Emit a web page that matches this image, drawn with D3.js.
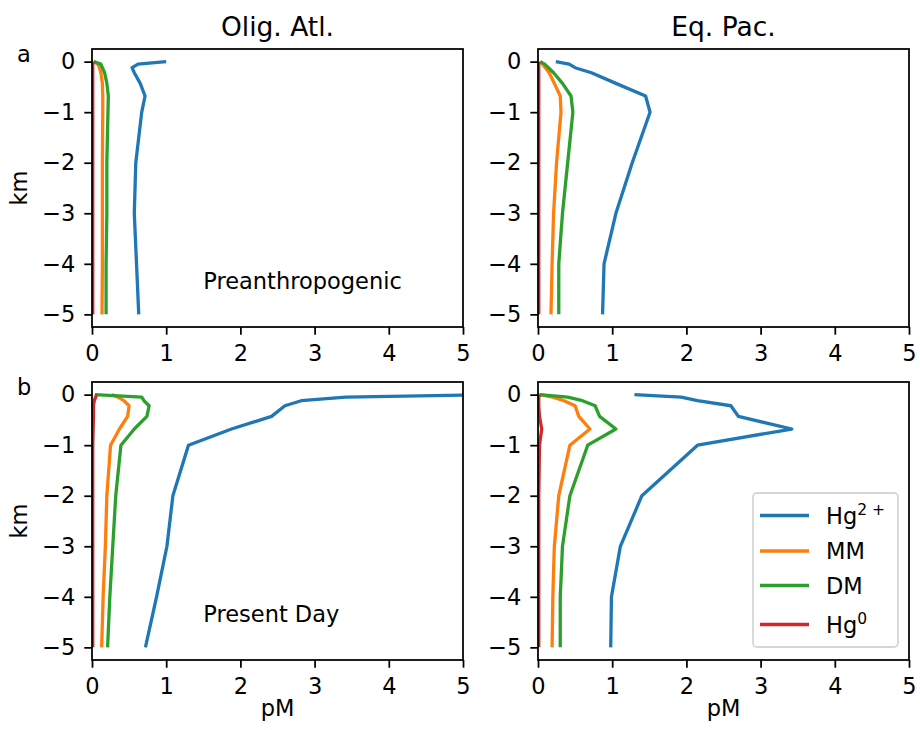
<!DOCTYPE html>
<html>
<head>
<meta charset="utf-8">
<script src="https://cdn.jsdelivr.net/npm/d3@7"></script>
<style>
  body { margin: 0; background: #fff; }
  text { font-family: "DejaVu Sans", sans-serif; fill: #000; }
</style>
</head>
<body>
<div id="chart"></div>
<script>
//Profundidades (km) comunes a todas las series
const depthKm = [0, -0.05, -0.12, -0.22, -0.43, -0.68, -1, -2, -3, -4, -5];

//Olig. Atl. - Preanthropogenic
const oaPreHg2 = [1.0, 0.62, 0.54, 0.57, 0.65, 0.715, 0.67, 0.59, 0.57, 0.60, 0.63];
const oaPreMM  = [0.03, 0.08, 0.10, 0.12, 0.14, 0.145, 0.145, 0.14, 0.14, 0.14, 0.135];
const oaPreDM  = [0.02, 0.12, 0.14, 0.17, 0.20, 0.22, 0.215, 0.20, 0.20, 0.19, 0.19];
const oaPreHg0 = [0.01, 0.01, 0.01, 0.01, 0.01, 0.01, 0.01, 0.01, 0.01, 0.01, 0.01];

//Eq. Pac. - Preanthropogenic
const epPreHg2 = [0.24, 0.42, 0.50, 0.72, 1.05, 1.45, 1.51, 1.27, 1.05, 0.89, 0.87];
const epPreMM  = [0.03, 0.06, 0.10, 0.15, 0.22, 0.30, 0.31, 0.25, 0.21, 0.19, 0.175];
const epPreDM  = [0.03, 0.09, 0.14, 0.21, 0.33, 0.445, 0.47, 0.40, 0.33, 0.28, 0.28];
const epPreHg0 = [0.01, 0.01, 0.01, 0.01, 0.01, 0.01, 0.01, 0.01, 0.01, 0.01, 0.01];

//Olig. Atl. - Present Day
const oaPdHg2 = [5.3, 3.42, 2.82, 2.60, 2.42, 1.88, 1.30, 1.09, 1.01, 0.87, 0.72];
const oaPdMM  = [0.27, 0.35, 0.43, 0.50, 0.48, 0.37, 0.25, 0.20, 0.18, 0.15, 0.13];
const oaPdDM  = [0.04, 0.67, 0.70, 0.77, 0.74, 0.57, 0.39, 0.32, 0.28, 0.24, 0.21];
const oaPdHg0 = [0.06, 0.05, 0.03, 0.02, 0.02, 0.015, 0.01, 0.01, 0.01, 0.01, 0.01];

//Eq. Pac. - Present Day
const epPdHg2 = [1.30, 1.93, 2.15, 2.60, 2.70, 3.42, 2.15, 1.40, 1.11, 0.99, 0.98];
const epPdMM  = [0.02, 0.20, 0.35, 0.50, 0.55, 0.70, 0.43, 0.28, 0.22, 0.20, 0.19];
const epPdDM  = [0.02, 0.40, 0.60, 0.77, 0.83, 1.05, 0.67, 0.43, 0.33, 0.30, 0.30];
const epPdHg0 = [0.02, 0.01, 0.01, 0.01, 0.02, 0.05, 0.02, 0.01, 0.01, 0.01, 0.01];

const xTicks = [0, 1, 2, 3, 4, 5];
const yTicks = [0, -1, -2, -3, -4, -5];
const columnTitles = ['Olig. Atl.', 'Eq. Pac.'];
const rowLabels = ['a', 'b'];
const rowNotes = ['Preanthropogenic', 'Present Day'];
const seriesNames = ['Hg2+', 'MM', 'DM', 'Hg0'];

//Colores fijos
const COLORS = ['#1f77b4', '#ff7f0e', '#2ca02c', '#d62728'];

const panels = [
    { row: 0, col: 0, series: [oaPreHg2, oaPreMM, oaPreDM, oaPreHg0] },
    { row: 0, col: 1, series: [epPreHg2, epPreMM, epPreDM, epPreHg0] },
    { row: 1, col: 0, series: [oaPdHg2, oaPdMM, oaPdDM, oaPdHg0] },
    { row: 1, col: 1, series: [epPdHg2, epPdMM, epPdDM, epPdHg0] }
];

const W = 920, H = 730;
const axLeft = [92, 538], axTop = [49, 382];
const axW = 371, axH = 278;
const TICK = 7.7, FS = 22.5;

const svg = d3.select('#chart').append('svg')
    .attr('width', W).attr('height', H);

panels.forEach(function(p, i) {
    const x0 = axLeft[p.col], y0 = axTop[p.row];
    const x = d3.scaleLinear().domain([0, 5]).range([x0, x0 + axW]);
    const y = d3.scaleLinear().domain([-5.25, 0.25]).range([y0 + axH, y0]);

    svg.append('clipPath').attr('id', 'clip' + i)
        .append('rect').attr('x', x0).attr('y', y0).attr('width', axW).attr('height', axH);

    const g = svg.append('g');

    //Líneas
    const line = d3.line()
        .x(function(d) { return x(d[0]); })
        .y(function(d) { return y(d[1]); });

    g.append('g').attr('clip-path', 'url(#clip' + i + ')')
        .selectAll('path')
        .data(p.series)
        .enter()
        .append('path')
        .attr('d', function(s) { return line(s.map(function(v, k) { return [v, depthKm[k]]; })); })
        .attr('fill', 'none')
        .attr('stroke', function(s, k) { return COLORS[k]; })
        .attr('stroke-width', 3.3)
        .attr('stroke-linejoin', 'round')
        .attr('stroke-linecap', 'butt');

    //Ejes
    const xAxis = g.append('g')
        .attr('transform', 'translate(0,' + (y0 + axH) + ')')
        .call(d3.axisBottom(x).tickValues(xTicks).tickFormat(d3.format('d')).tickSize(TICK).tickSizeOuter(0).tickPadding(10));
    const yAxis = g.append('g')
        .attr('transform', 'translate(' + x0 + ',0)')
        .call(d3.axisLeft(y).tickValues(yTicks).tickFormat(d3.format('d')).tickSize(TICK).tickSizeOuter(0).tickPadding(9));

    [xAxis, yAxis].forEach(function(a) {
        a.select('.domain').remove();
        a.selectAll('line').attr('stroke', '#000').attr('stroke-width', 1.76);
        a.selectAll('text').style('font-size', FS + 'px').style('font-family', '"DejaVu Sans", sans-serif').attr('fill', '#000');
    });

    g.append('rect')
        .attr('x', x0).attr('y', y0).attr('width', axW).attr('height', axH)
        .attr('fill', 'none').attr('stroke', '#000').attr('stroke-width', 1.76);

    if (p.row === 0) {
        svg.append('text')
            .attr('x', x0 + axW / 2).attr('y', 36)
            .attr('text-anchor', 'middle')
            .style('font-size', '26.5px')
            .text(columnTitles[p.col]);
    } else {
        svg.append('text')
            .attr('x', x0 + axW / 2).attr('y', 716)
            .attr('text-anchor', 'middle')
            .style('font-size', FS + 'px')
            .text('pM');
    }

    if (p.col === 0) {
        //Texto de escenario
        g.append('text')
            .attr('x', x(1.5)).attr('y', y(-4.5))
            .style('font-size', FS + 'px')
            .text(rowNotes[p.row]);

        svg.append('text')
            .attr('transform', 'translate(27,' + (y0 + axH / 2) + ') rotate(-90)')
            .attr('text-anchor', 'middle')
            .style('font-size', FS + 'px')
            .text('km');
        svg.append('text')
            .attr('x', 17).attr('y', y0 + 13)
            .style('font-size', FS + 'px')
            .text(rowLabels[p.row]);
    }
});

//Leyenda
const legend = svg.append('g').attr('transform', 'translate(753,493)');
legend.append('rect')
    .attr('width', 145).attr('height', 154)
    .attr('rx', 4).attr('ry', 4)
    .attr('fill', '#fff').attr('fill-opacity', 0.8)
    .attr('stroke', '#d6d6d6').attr('stroke-width', 1.76);

const rowY = [22.5, 58, 92.5, 131.5];
seriesNames.forEach(function(name, k) {
    const r = legend.append('g').attr('transform', 'translate(0,' + rowY[k] + ')');
    r.append('line')
        .attr('x1', 7).attr('x2', 56).attr('y1', 0).attr('y2', 0)
        .attr('stroke', COLORS[k]).attr('stroke-width', 3.3);
    const t = r.append('text')
        .attr('x', 73).attr('y', 8)
        .style('font-size', FS + 'px');
    if (name === 'Hg2+') {
        t.append('tspan').text('Hg');
        t.append('tspan').attr('dy', -9).style('font-size', '15.5px').text('2 +');
    } else if (name === 'Hg0') {
        t.append('tspan').text('Hg');
        t.append('tspan').attr('dy', -9).style('font-size', '15.5px').text('0');
    } else {
        t.text(name);
    }
});
</script>
</body>
</html>
